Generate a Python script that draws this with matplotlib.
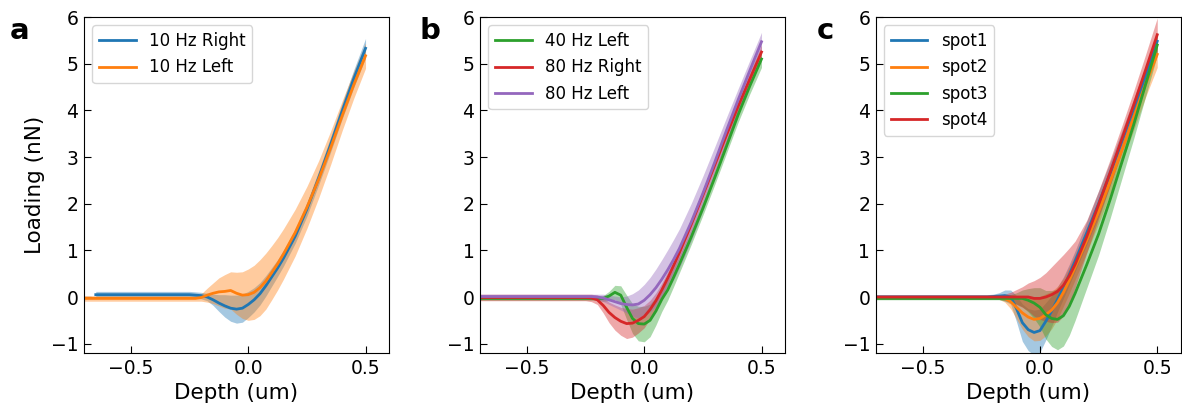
import numpy as np
import matplotlib
matplotlib.use("Agg")
import matplotlib.pyplot as plt

nan = np.nan
depth = [-0.7, -0.65, -0.5, -0.3, -0.25, -0.225, -0.2, -0.175, -0.15, -0.125,
         -0.1, -0.075, -0.05, -0.025, 0.0, 0.025, 0.05, 0.075, 0.1, 0.125,
         0.15, 0.2, 0.25, 0.3, 0.35, 0.4, 0.45, 0.5]

# panel a
labels_a = ['10 Hz Right', '10 Hz Left']
a_right = [nan, 0.05, 0.05, 0.05, 0.05, 0.04, 0.03, 0.0, -0.06, -0.13, -0.19, -0.24, -0.26, -0.24,
           -0.16, -0.06, 0.07, 0.24, 0.43, 0.62, 0.83, 1.3, 1.88, 2.55, 3.25, 3.98, 4.68, 5.33]
a_right_sd = [nan, 0.07, 0.07, 0.07, 0.07, 0.07, 0.07, 0.08, 0.12, 0.18, 0.24, 0.28, 0.3, 0.3,
              0.28, 0.26, 0.24, 0.22, 0.2, 0.18, 0.17, 0.15, 0.15, 0.15, 0.16, 0.17, 0.19, 0.21]
a_left = [-0.03, -0.03, -0.03, -0.03, -0.03, -0.03, -0.01, 0.04, 0.08, 0.11, 0.12, 0.14, 0.08, 0.04,
          0.05, 0.1, 0.2, 0.34, 0.52, 0.71, 0.92, 1.38, 1.92, 2.52, 3.18, 3.88, 4.55, 5.17]
a_left_sd = [0.06, 0.06, 0.06, 0.06, 0.06, 0.06, 0.08, 0.15, 0.22, 0.3, 0.36, 0.4, 0.45, 0.5,
             0.55, 0.58, 0.6, 0.6, 0.58, 0.56, 0.54, 0.5, 0.45, 0.4, 0.36, 0.32, 0.29, 0.27]

# panel b
labels_b = ['40 Hz Left', '80 Hz Right', '80 Hz Left']
b_40left = [-0.03, -0.03, -0.03, -0.03, -0.03, -0.03, -0.03, -0.03, 0.02, 0.1, 0.04, -0.22, -0.46, -0.57,
            -0.58, -0.5, -0.3, -0.05, 0.15, 0.42, 0.7, 1.28, 1.9, 2.55, 3.22, 3.9, 4.52, 5.1]
b_40left_sd = [0.04, 0.04, 0.04, 0.04, 0.04, 0.04, 0.04, 0.06, 0.1, 0.15, 0.2, 0.26, 0.32, 0.37,
               0.38, 0.35, 0.3, 0.26, 0.22, 0.2, 0.18, 0.16, 0.15, 0.15, 0.15, 0.16, 0.17, 0.18]
b_80right = [-0.01, -0.01, -0.01, -0.01, -0.01, -0.02, -0.06, -0.18, -0.33, -0.44, -0.52, -0.57, -0.56, -0.5,
             -0.42, -0.27, -0.08, 0.15, 0.4, 0.67, 0.95, 1.55, 2.18, 2.82, 3.46, 4.08, 4.67, 5.25]
b_80right_sd = [0.07, 0.07, 0.07, 0.07, 0.07, 0.08, 0.1, 0.16, 0.22, 0.27, 0.3, 0.32, 0.3, 0.27,
                0.24, 0.2, 0.17, 0.15, 0.14, 0.13, 0.13, 0.13, 0.13, 0.13, 0.14, 0.14, 0.15, 0.16]
b_80left = [0.01, 0.01, 0.01, 0.01, 0.01, 0.01, 0.0, -0.02, -0.06, -0.1, -0.14, -0.16, -0.17, -0.15,
            -0.07, 0.05, 0.2, 0.38, 0.58, 0.8, 1.04, 1.6, 2.22, 2.88, 3.56, 4.22, 4.85, 5.47]
b_80left_sd = [0.05, 0.05, 0.05, 0.05, 0.05, 0.05, 0.06, 0.08, 0.1, 0.12, 0.14, 0.18, 0.24, 0.3,
               0.34, 0.37, 0.4, 0.42, 0.43, 0.43, 0.42, 0.4, 0.37, 0.33, 0.28, 0.24, 0.22, 0.2]

# panel c
labels_c = ['spot1', 'spot2', 'spot3', 'spot4']
c_spot1 = [0.0, 0.0, 0.0, 0.0, 0.0, 0.0, 0.01, 0.02, 0.03, 0.0, -0.25, -0.55, -0.7, -0.76,
           -0.72, -0.52, -0.3, -0.05, 0.2, 0.48, 0.77, 1.38, 2.0, 2.66, 3.35, 4.05, 4.75, 5.48]
c_spot1_sd = [0.05, 0.05, 0.05, 0.05, 0.05, 0.05, 0.05, 0.07, 0.12, 0.15, 0.28, 0.4, 0.45, 0.48,
              0.46, 0.4, 0.33, 0.27, 0.23, 0.22, 0.22, 0.25, 0.27, 0.25, 0.22, 0.2, 0.2, 0.2]
c_spot2 = [-0.01, -0.01, -0.01, -0.01, -0.01, -0.01, -0.01, -0.01, -0.03, -0.1, -0.22, -0.34, -0.43, -0.48,
           -0.46, -0.38, -0.28, -0.12, 0.1, 0.36, 0.64, 1.22, 1.83, 2.48, 3.15, 3.85, 4.55, 5.2]
c_spot2_sd = [0.04, 0.04, 0.04, 0.04, 0.04, 0.04, 0.04, 0.04, 0.08, 0.15, 0.25, 0.35, 0.42, 0.46,
              0.47, 0.45, 0.4, 0.35, 0.3, 0.28, 0.27, 0.26, 0.26, 0.26, 0.26, 0.27, 0.27, 0.28]
c_spot3 = [-0.03, -0.03, -0.03, -0.03, -0.03, -0.03, -0.03, -0.03, -0.03, -0.03, -0.03, -0.03, -0.07, -0.13,
           -0.22, -0.38, -0.46, -0.48, -0.4, -0.2, 0.08, 0.7, 1.35, 2.1, 2.9, 3.7, 4.55, 5.4]
c_spot3_sd = [0.03, 0.03, 0.03, 0.03, 0.03, 0.03, 0.03, 0.03, 0.05, 0.08, 0.12, 0.18, 0.25, 0.33,
              0.42, 0.52, 0.6, 0.65, 0.65, 0.62, 0.58, 0.5, 0.45, 0.4, 0.35, 0.3, 0.26, 0.22]
c_spot4 = [0.0, 0.0, 0.0, 0.0, 0.0, 0.0, 0.0, 0.0, 0.0, 0.0, 0.0, 0.0, 0.0, -0.03,
           -0.03, 0.0, 0.05, 0.12, 0.25, 0.45, 0.7, 1.3, 1.98, 2.68, 3.4, 4.12, 4.86, 5.62]
c_spot4_sd = [0.04, 0.04, 0.04, 0.04, 0.04, 0.04, 0.04, 0.04, 0.06, 0.1, 0.16, 0.22, 0.3, 0.38,
              0.45, 0.52, 0.6, 0.66, 0.66, 0.6, 0.5, 0.35, 0.3, 0.28, 0.28, 0.3, 0.33, 0.36]

panels = [
    ('a', labels_a, [(a_right, a_right_sd, 'C0'), (a_left, a_left_sd, 'C1')]),
    ('b', labels_b, [(b_40left, b_40left_sd, 'C2'), (b_80right, b_80right_sd, 'C3'),
                     (b_80left, b_80left_sd, 'C4')]),
    ('c', labels_c, [(c_spot1, c_spot1_sd, 'C0'), (c_spot2, c_spot2_sd, 'C1'),
                     (c_spot3, c_spot3_sd, 'C2'), (c_spot4, c_spot4_sd, 'C3')]),
]
lefts = [0.0711, 0.4061, 0.7409]

fig = plt.figure(figsize=(11.82, 4.12), dpi=100)
x = np.array(depth)
for (letter, labels, series), left in zip(panels, lefts):
    ax = fig.add_axes([left, 0.1432, 0.258, 0.8155])
    for (mean, sd, color), lab in zip(series, labels):
        m = np.array(mean)
        s = np.array(sd)
        ax.fill_between(x, m - s, m + s, color=color, alpha=0.4, linewidth=0)
        ax.plot(x, m, color=color, lw=2, label=lab)
    ax.set_xlim(-0.7, 0.6)
    ax.set_ylim(-1.2, 6)
    ax.set_xticks([-0.5, 0.0, 0.5])
    ax.set_yticks([-1, 0, 1, 2, 3, 4, 5, 6])
    ax.tick_params(direction='in', labelsize=13.5, length=5, pad=4)
    ax.set_xlabel('Depth (um)', fontsize=15.5, labelpad=4)
    if letter == 'a':
        ax.set_ylabel('Loading (nN)', fontsize=15.5)
    ax.legend(loc='upper left', fontsize=12, handlelength=2.2)
    ax.text(-0.21 if letter == 'a' else -0.165, 1.0, letter, transform=ax.transAxes,
            fontsize=21, fontweight='bold', va='top', ha='center')

fig.savefig('out.png', dpi=100)
